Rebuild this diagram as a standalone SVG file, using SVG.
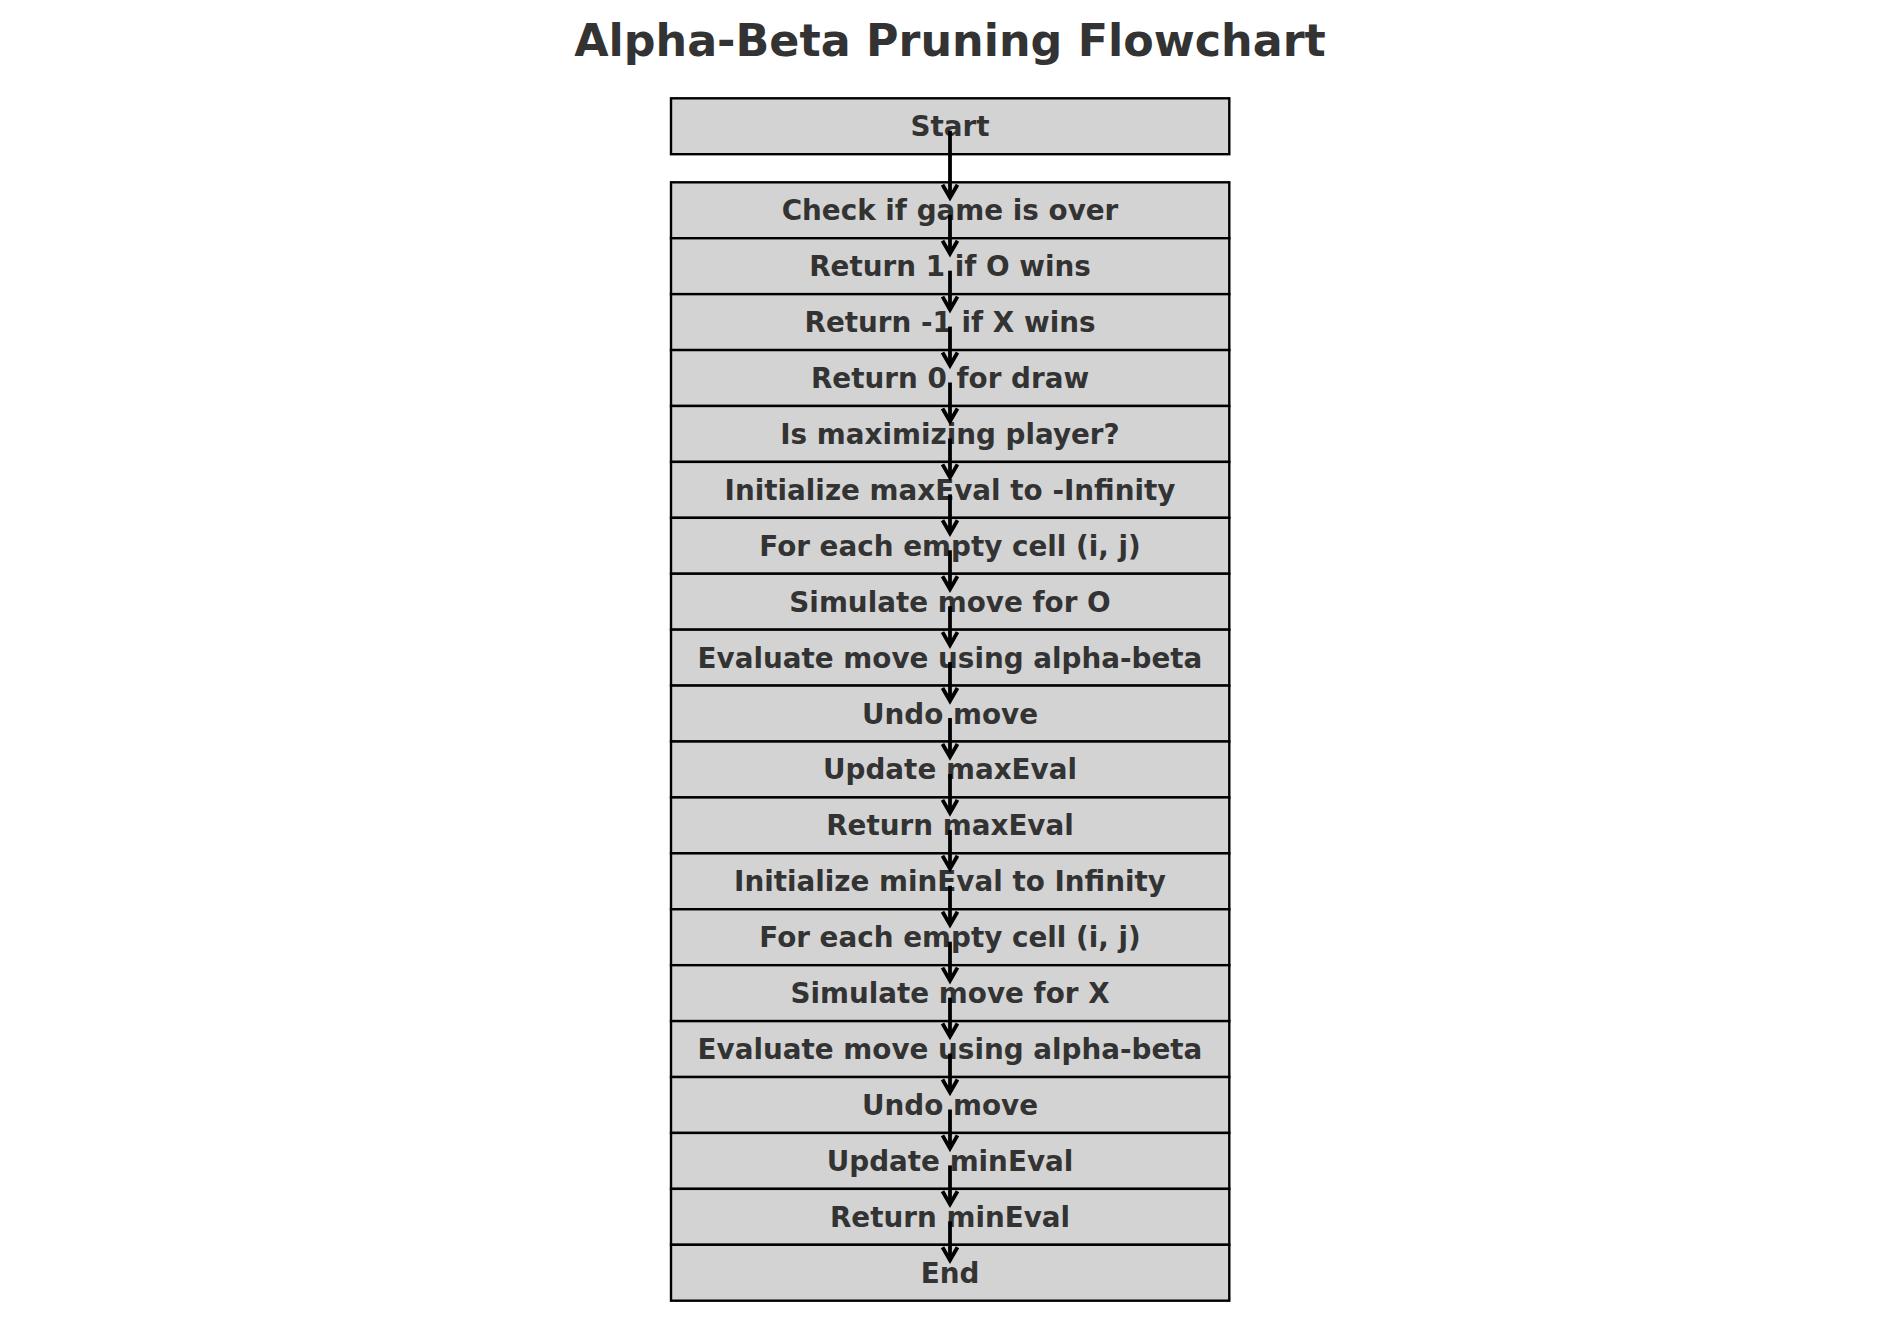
<svg xmlns="http://www.w3.org/2000/svg" width="1900" height="1322" viewBox="0 0 1900 1322">
<style>
.box{fill:#d3d3d3;stroke:#000;stroke-width:2.4}
.lbl{font-family:"DejaVu Sans",sans-serif;font-weight:bold;font-size:27.8px;fill:#333;text-anchor:middle}
.title{font-family:"DejaVu Sans",sans-serif;font-weight:bold;font-size:44.4px;fill:#333;text-anchor:middle}
.conn{stroke:#000;stroke-width:3.8;fill:none;marker-end:url(#ah)}
</style>
<defs>
<marker id="ah" markerUnits="userSpaceOnUse" viewBox="-18 -12 24 24" refX="0" refY="0" markerWidth="24" markerHeight="24" orient="auto">
<path d="M -13,-7.5 L 0,0 L -13,7.5" fill="none" stroke="#000" stroke-width="3.8" stroke-linejoin="miter" stroke-linecap="butt"/>
</marker>
</defs>
<rect width="1900" height="1322" fill="#fff"/>
<text class="title" x="950" y="55.5">Alpha-Beta Pruning Flowchart</text>
<g id="n-start"><rect class="box" x="671" y="98.3" width="558.3" height="55.9"/><text class="lbl" x="950" y="136.3">Start</text></g>
<g id="n0"><rect class="box" x="671" y="182.3" width="558.3" height="55.92"/><text class="lbl" x="950" y="220.26">Check if game is over</text></g>
<g id="n1"><rect class="box" x="671" y="238.22" width="558.3" height="55.92"/><text class="lbl" x="950" y="276.18">Return 1 if O wins</text></g>
<g id="n2"><rect class="box" x="671" y="294.14" width="558.3" height="55.92"/><text class="lbl" x="950" y="332.1">Return -1 if X wins</text></g>
<g id="n3"><rect class="box" x="671" y="350.06" width="558.3" height="55.92"/><text class="lbl" x="950" y="388.02">Return 0 for draw</text></g>
<g id="n4"><rect class="box" x="671" y="405.98" width="558.3" height="55.92"/><text class="lbl" x="950" y="443.94">Is maximizing player?</text></g>
<g id="n5"><rect class="box" x="671" y="461.9" width="558.3" height="55.92"/><text class="lbl" x="950" y="499.86">Initialize maxEval to -Infinity</text></g>
<g id="n6"><rect class="box" x="671" y="517.82" width="558.3" height="55.92"/><text class="lbl" x="950" y="555.78">For each empty cell (i, j)</text></g>
<g id="n7"><rect class="box" x="671" y="573.74" width="558.3" height="55.92"/><text class="lbl" x="950" y="611.7">Simulate move for O</text></g>
<g id="n8"><rect class="box" x="671" y="629.66" width="558.3" height="55.92"/><text class="lbl" x="950" y="667.62">Evaluate move using alpha-beta</text></g>
<g id="n9"><rect class="box" x="671" y="685.58" width="558.3" height="55.92"/><text class="lbl" x="950" y="723.54">Undo move</text></g>
<g id="n10"><rect class="box" x="671" y="741.5" width="558.3" height="55.92"/><text class="lbl" x="950" y="779.46">Update maxEval</text></g>
<g id="n11"><rect class="box" x="671" y="797.42" width="558.3" height="55.92"/><text class="lbl" x="950" y="835.38">Return maxEval</text></g>
<g id="n12"><rect class="box" x="671" y="853.34" width="558.3" height="55.92"/><text class="lbl" x="950" y="891.3">Initialize minEval to Infinity</text></g>
<g id="n13"><rect class="box" x="671" y="909.26" width="558.3" height="55.92"/><text class="lbl" x="950" y="947.22">For each empty cell (i, j)</text></g>
<g id="n14"><rect class="box" x="671" y="965.18" width="558.3" height="55.92"/><text class="lbl" x="950" y="1003.14">Simulate move for X</text></g>
<g id="n15"><rect class="box" x="671" y="1021.1" width="558.3" height="55.92"/><text class="lbl" x="950" y="1059.06">Evaluate move using alpha-beta</text></g>
<g id="n16"><rect class="box" x="671" y="1077.02" width="558.3" height="55.92"/><text class="lbl" x="950" y="1114.98">Undo move</text></g>
<g id="n17"><rect class="box" x="671" y="1132.94" width="558.3" height="55.92"/><text class="lbl" x="950" y="1170.9">Update minEval</text></g>
<g id="n18"><rect class="box" x="671" y="1188.86" width="558.3" height="55.92"/><text class="lbl" x="950" y="1226.82">Return minEval</text></g>
<g id="n19"><rect class="box" x="671" y="1244.78" width="558.3" height="55.92"/><text class="lbl" x="950" y="1282.74">End</text></g>
<g id="connectors">
<path class="conn" d="M950,130.8 V197.76"/>
<path class="conn" d="M950,214.76 V253.68"/>
<path class="conn" d="M950,270.68 V309.6"/>
<path class="conn" d="M950,326.6 V365.52"/>
<path class="conn" d="M950,382.52 V421.44"/>
<path class="conn" d="M950,438.44 V477.36"/>
<path class="conn" d="M950,494.36 V533.28"/>
<path class="conn" d="M950,550.28 V589.2"/>
<path class="conn" d="M950,606.2 V645.12"/>
<path class="conn" d="M950,662.12 V701.04"/>
<path class="conn" d="M950,718.04 V756.96"/>
<path class="conn" d="M950,773.96 V812.88"/>
<path class="conn" d="M950,829.88 V868.8"/>
<path class="conn" d="M950,885.8 V924.72"/>
<path class="conn" d="M950,941.72 V980.64"/>
<path class="conn" d="M950,997.64 V1036.56"/>
<path class="conn" d="M950,1053.56 V1092.48"/>
<path class="conn" d="M950,1109.48 V1148.4"/>
<path class="conn" d="M950,1165.4 V1204.32"/>
<path class="conn" d="M950,1221.32 V1260.24"/>
</g>
</svg>
